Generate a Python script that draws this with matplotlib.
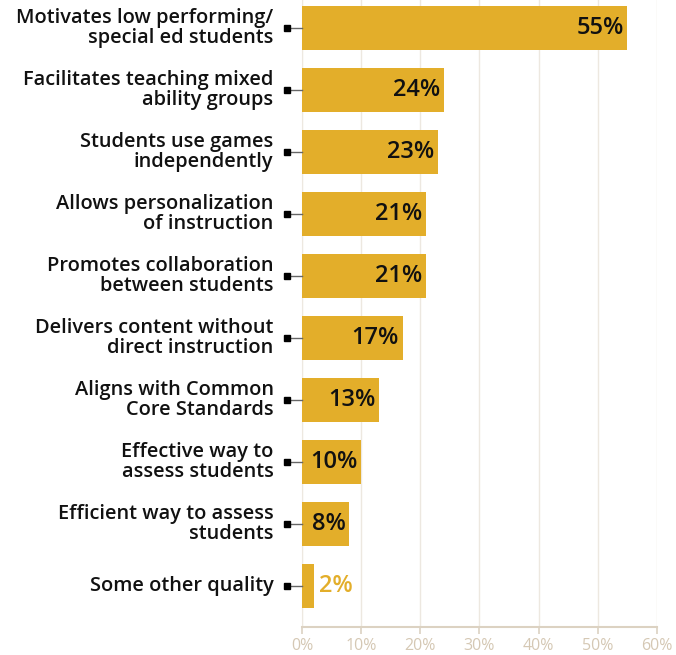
import matplotlib
matplotlib.use("Agg")
import matplotlib.pyplot as plt
from matplotlib.ticker import FuncFormatter

categories = [
    "Motivates low performing/\nspecial ed students",
    "Facilitates teaching mixed\nability groups",
    "Students use games\nindependently",
    "Allows personalization\nof instruction",
    "Promotes collaboration\nbetween students",
    "Delivers content without\ndirect instruction",
    "Aligns with Common\nCore Standards",
    "Effective way to\nassess students",
    "Efficient way to assess\nstudents",
    "Some other quality",
]
values = [55, 24, 23, 21, 21, 17, 13, 10, 8, 2]
x_ticks = [0, 10, 20, 30, 40, 50, 60]

BAR_COLOR = "#E3AE2A"
GRID_COLOR = "#EDE8E0"
AXIS_COLOR = "#DCD2C2"
TICK_TEXT = "#D5C8B4"

plt.rcParams["font.family"] = ["Open Sans", "DejaVu Sans"]

fig = plt.figure(figsize=(6.76, 6.55), dpi=100)
ax = fig.add_axes([302 / 676, 1 - 627 / 655, 355 / 676, 627 / 655])

ypos = list(range(len(values)))
ax.barh(ypos, values, height=0.71, color=BAR_COLOR, zorder=3)

ax.set_xlim(0, 60)
ax.set_ylim(9.66, -0.45)
ax.set_xticks(x_ticks)
ax.xaxis.set_major_formatter(FuncFormatter(lambda v, _: f"{v:.0f}%"))
ax.tick_params(axis="x", colors=AXIS_COLOR, labelcolor=TICK_TEXT, labelsize=11.5,
               length=5, width=1.2, pad=3)
ax.set_yticks([])
ax.grid(axis="x", color=GRID_COLOR, linewidth=1, zorder=0)

for side in ["top", "right"]:
    ax.spines[side].set_visible(False)
ax.spines["left"].set_color(GRID_COLOR)
ax.spines["bottom"].set_color(AXIS_COLOR)
ax.spines["bottom"].set_linewidth(1.5)

for y, v, label in zip(ypos, values, categories):
    # leader line and square marker
    ax.plot([-2.0, 0], [y, y], color="#666666", lw=1, clip_on=False, zorder=4)
    ax.plot([-2.5], [y], marker="s", color="black", markersize=4.5, clip_on=False, zorder=5)
    ax.text(-4.8, y, label, ha="right", va="center", fontsize=14.4, fontweight="semibold",
            linespacing=1.02, color="#111111")
    if v >= 5:
        ax.text(v - 0.6, y, f"{v}%", ha="right", va="center", fontsize=17,
                fontweight="semibold", color="#111111", zorder=6)
    else:
        ax.text(v + 0.8, y, f"{v}%", ha="left", va="center", fontsize=17,
                fontweight="semibold", color=BAR_COLOR, zorder=6)

fig.savefig("out.png", dpi=100)
